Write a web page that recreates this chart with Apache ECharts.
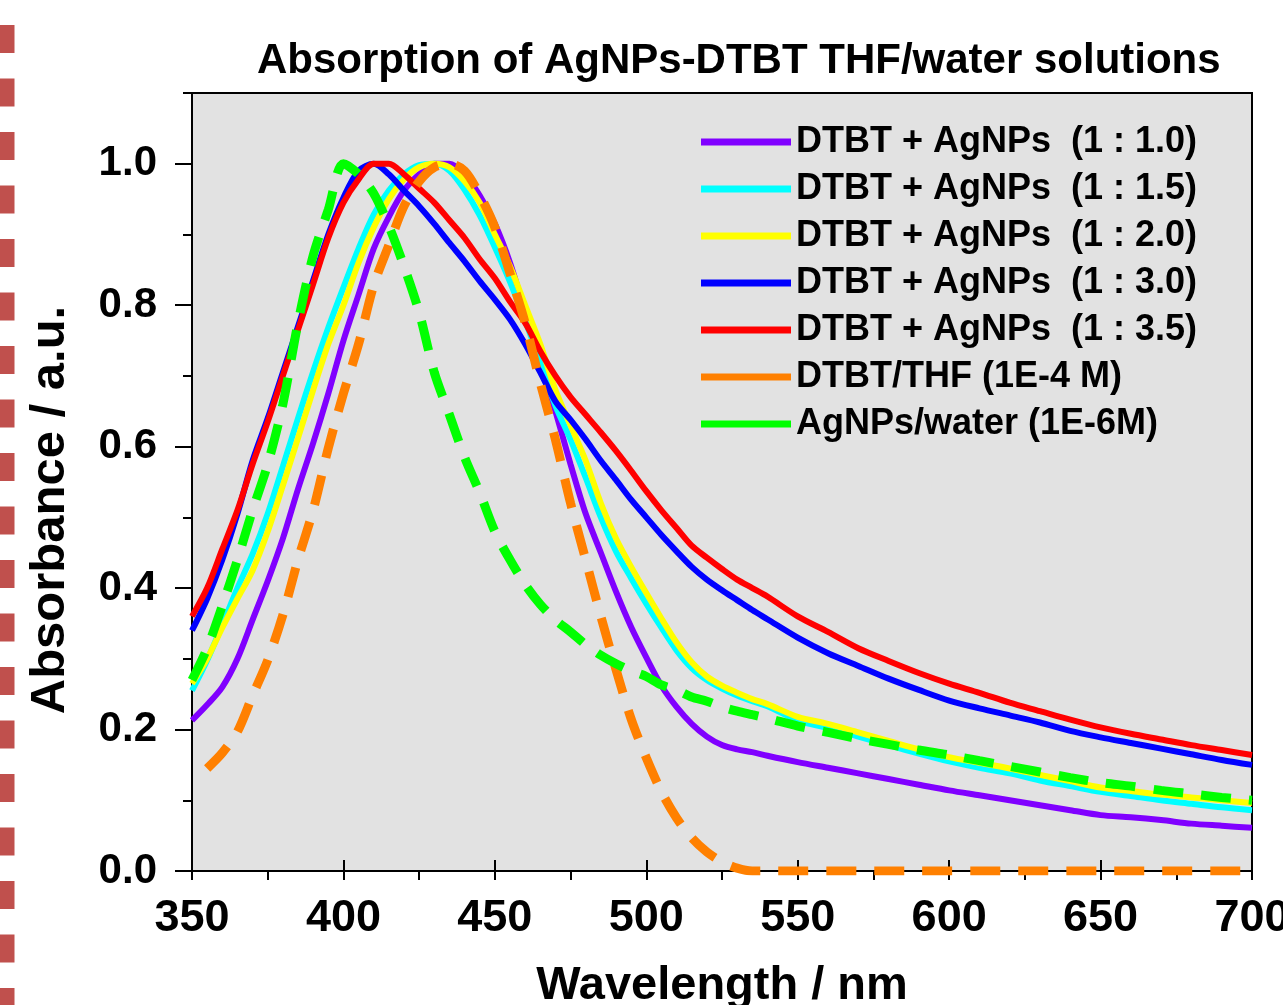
<!DOCTYPE html>
<html>
<head>
<meta charset="utf-8">
<title>Absorption of AgNPs-DTBT THF/water solutions</title>
<script src="https://cdn.jsdelivr.net/npm/echarts@6/dist/echarts.min.js"></script>
<style>
html, body { margin: 0; padding: 0; background: #fff; }
#absChart { width: 1283px; height: 1005px; }
</style>
</head>
<body>
<div id="absChart"></div>
<script>
var absChart;

// wavelength grid (nm) shared by all spectra
var wavelength = [350, 355, 360, 365, 370, 375, 380, 385, 390, 395, 400, 405, 410, 415, 420, 425, 430, 435, 440, 445,
    450, 455, 460, 465, 470, 475, 480, 485, 490, 495, 500, 505, 510, 515, 520, 525, 530, 535, 540,
    550, 560, 570, 580, 590, 600, 610, 620, 630, 640, 650, 660, 670, 680, 690, 700];

// DTBT + AgNPs (1 : 1.0)
var ratio10 = [0.213, 0.235, 0.26, 0.30, 0.355, 0.41, 0.47, 0.54, 0.605, 0.675, 0.75, 0.815, 0.88, 0.925, 0.962, 0.985, 1.0, 1.0, 0.985, 0.955,
    0.915, 0.86, 0.79, 0.72, 0.65, 0.575, 0.505, 0.45, 0.395, 0.345, 0.302, 0.262, 0.232, 0.208, 0.19, 0.178, 0.172, 0.168, 0.163,
    0.154, 0.146, 0.138, 0.13, 0.122, 0.114, 0.107, 0.1, 0.093, 0.086, 0.079, 0.076, 0.072, 0.067, 0.064, 0.061];
// DTBT + AgNPs (1 : 1.5)
var ratio15 = [0.255, 0.298, 0.348, 0.40, 0.448, 0.505, 0.572, 0.64, 0.706, 0.768, 0.825, 0.88, 0.928, 0.962, 0.985, 0.998, 1.0, 0.99, 0.963, 0.927,
    0.882, 0.833, 0.778, 0.72, 0.658, 0.61, 0.556, 0.50, 0.452, 0.414, 0.378, 0.344, 0.312, 0.287, 0.27, 0.258, 0.248, 0.24, 0.233,
    0.213, 0.202, 0.19, 0.178, 0.166, 0.155, 0.146, 0.138, 0.128, 0.12, 0.112, 0.106, 0.1, 0.095, 0.09, 0.086];
// DTBT + AgNPs (1 : 2.0)
var ratio20 = [0.265, 0.30, 0.344, 0.385, 0.425, 0.48, 0.545, 0.612, 0.68, 0.745, 0.80, 0.86, 0.91, 0.95, 0.978, 0.995, 1.0, 0.995, 0.975, 0.945,
    0.90, 0.855, 0.80, 0.745, 0.68, 0.63, 0.58, 0.52, 0.47, 0.43, 0.393, 0.357, 0.323, 0.295, 0.275, 0.262, 0.252, 0.243, 0.236,
    0.218, 0.208, 0.196, 0.184, 0.172, 0.161, 0.153, 0.145, 0.136, 0.127, 0.118, 0.113, 0.108, 0.104, 0.10, 0.096];
// DTBT + AgNPs (1 : 3.0)
var ratio30 = [0.34, 0.385, 0.44, 0.505, 0.58, 0.64, 0.705, 0.77, 0.835, 0.90, 0.952, 0.99, 1.0, 0.985, 0.962, 0.94, 0.915, 0.888, 0.862, 0.834,
    0.808, 0.78, 0.745, 0.705, 0.664, 0.638, 0.61, 0.58, 0.553, 0.525, 0.50, 0.475, 0.452, 0.43, 0.412, 0.397, 0.383, 0.369, 0.356,
    0.33, 0.308, 0.29, 0.272, 0.256, 0.241, 0.23, 0.22, 0.21, 0.198, 0.189, 0.181, 0.173, 0.165, 0.157, 0.15];
// DTBT + AgNPs (1 : 3.5)
var ratio35 = [0.36, 0.40, 0.455, 0.51, 0.575, 0.635, 0.70, 0.765, 0.83, 0.895, 0.945, 0.978, 1.0, 1.0, 0.985, 0.965, 0.945, 0.92, 0.895, 0.865,
    0.838, 0.805, 0.775, 0.735, 0.70, 0.67, 0.645, 0.62, 0.594, 0.566, 0.537, 0.51, 0.485, 0.46, 0.443, 0.427, 0.412, 0.40, 0.388,
    0.36, 0.338, 0.315, 0.297, 0.28, 0.265, 0.252, 0.238, 0.226, 0.214, 0.203, 0.194, 0.186, 0.178, 0.171, 0.164];
// DTBT/THF (1E-4 M), no point at 350
var dtbtThf = [null, 0.145, 0.167, 0.197, 0.248, 0.298, 0.362, 0.44, 0.51, 0.598, 0.675, 0.745, 0.828, 0.885, 0.94, 0.975, 0.995, 1.0, 0.99, 0.956,
    0.91, 0.845, 0.775, 0.69, 0.61, 0.52, 0.44, 0.36, 0.285, 0.215, 0.16, 0.112, 0.075, 0.047, 0.027, 0.013, 0.004, 0, 0,
    0, 0, 0, 0, 0, 0, 0, 0, 0, 0, 0, 0, 0, 0, 0, 0];
// AgNPs/water (1E-6M)
var agnpsWater = [0.27, 0.315, 0.375, 0.44, 0.51, 0.575, 0.66, 0.775, 0.87, 0.935, 1.0, 0.985, 0.958, 0.912, 0.855, 0.79, 0.705, 0.645, 0.585, 0.535,
    0.48, 0.44, 0.405, 0.377, 0.355, 0.338, 0.32, 0.305, 0.293, 0.283, 0.275, 0.263, 0.256, 0.246, 0.24, 0.232, 0.226, 0.221, 0.216,
    0.205, 0.196, 0.187, 0.179, 0.171, 0.164, 0.156, 0.148, 0.14, 0.132, 0.125, 0.12, 0.114, 0.109, 0.104, 0.10];

var seriesNames = ['DTBT + AgNPs  (1 : 1.0)', 'DTBT + AgNPs  (1 : 1.5)', 'DTBT + AgNPs  (1 : 2.0)',
    'DTBT + AgNPs  (1 : 3.0)', 'DTBT + AgNPs  (1 : 3.5)', 'DTBT/THF (1E-4 M)', 'AgNPs/water (1E-6M)'];
var seriesColors = ['#8000ff', '#00ffff', '#ffff00', '#0000ff', '#ff0000', '#ff8000', '#00ff00'];

// major tick values
var absTicks = [0, 0.2, 0.4, 0.6, 0.8, 1.0];

var FONT = '"Liberation Sans", Arial, sans-serif';

init();

function init() {
    absChart = echarts.init(document.getElementById('absChart'));
    absChart.setOption(makeOptions());
}

function toPoints(values) {
    var pts = [];
    for (var i = 0; i < wavelength.length; i++) {
        if (values[i] !== null) {
            pts.push([wavelength[i], values[i]]);
        }
    }
    return pts;
}

function makeLine(idx, values, dashed) {
    return {
        name: seriesNames[idx],
        type: 'line',
        data: toPoints(values),
        showSymbol: false,
        smooth: 0.3,
        xAxisIndex: 0,
        yAxisIndex: 0,
        itemStyle: { color: seriesColors[idx] },
        lineStyle: {
            color: seriesColors[idx],
            width: dashed ? 9 : 6,
            type: dashed ? [30, 18] : 'solid'
        },
        emphasis: { disabled: true }
    };
}

function makeOptions() {
    var black = '#000';
    var option = {
        animation: false,
        backgroundColor: '#ffffff',
        textStyle: { fontFamily: FONT },
        title: {
            text: 'Absorption of AgNPs-DTBT THF/water solutions',
            left: 252,
            top: 35,
            textStyle: { fontFamily: FONT, fontSize: 42, fontWeight: 'bold', color: black }
        },
        legend: {
            orient: 'vertical',
            left: 696,
            top: 118,
            icon: 'rect',
            itemWidth: 90,
            itemHeight: 7,
            itemGap: 9,
            data: seriesNames,
            textStyle: { fontFamily: FONT, fontSize: 36, fontWeight: 'bold', color: black, lineHeight: 38 }
        },
        grid: {
            left: 192, right: 31, top: 93, bottom: 134,
            outerBoundsMode: 'none',
            show: true,
            backgroundColor: '#e2e2e2',
            borderColor: black,
            borderWidth: 2
        },
        // decorative dashed strip on the left edge
        graphic: [{
            type: 'line',
            silent: true,
            shape: { x1: 7, y1: 0, x2: 7, y2: 1005 },
            style: { stroke: '#c0504d', lineWidth: 15, lineDash: [28, 25.5], lineDashOffset: 28.5 }
        }],
        xAxis: [
            {
                // minor + major ticks, outside
                type: 'value', min: 350, max: 700, interval: 25, position: 'bottom',
                axisLine: { show: true, lineStyle: { color: black, width: 2 } },
                axisTick: { show: true, inside: false, length: 9, lineStyle: { color: black, width: 2 } },
                axisLabel: { show: false },
                splitLine: { show: false }
            },
            {
                // major ticks inside + labels
                type: 'value', min: 350, max: 700, interval: 50, position: 'bottom',
                axisLine: { show: false },
                axisTick: { show: true, inside: true, length: 11, lineStyle: { color: black, width: 2 } },
                axisLabel: { fontFamily: FONT, fontSize: 45, fontWeight: 'bold', color: black, margin: 25 },
                splitLine: { show: false },
                name: 'Wavelength / nm',
                nameLocation: 'middle',
                nameGap: 92,
                nameTextStyle: { fontFamily: FONT, fontSize: 47, fontWeight: 'bold', color: black }
            }
        ],
        yAxis: [
            {
                type: 'value', min: 0, max: 1.1, interval: 0.1, position: 'left',
                axisLine: { show: true, lineStyle: { color: black, width: 2 } },
                axisTick: { show: true, inside: false, length: 9, lineStyle: { color: black, width: 2 } },
                axisLabel: { show: false },
                splitLine: { show: false }
            },
            {
                type: 'value', min: 0, max: 1.1, position: 'left',
                axisLine: { show: false },
                axisTick: { show: true, inside: false, length: 17, customValues: absTicks, lineStyle: { color: black, width: 2 } },
                axisLabel: {
                    customValues: absTicks,
                    fontFamily: FONT, fontSize: 42, fontWeight: 'bold', color: black, margin: 35,
                    formatter: function (v) { return v.toFixed(1); }
                },
                splitLine: { show: false },
                name: 'Absorbance / a.u.',
                nameLocation: 'middle',
                nameGap: 117,
                nameTextStyle: { fontFamily: FONT, fontSize: 49, fontWeight: 'bold', color: black, padding: [0, 56, 0, 0] }
            }
        ],
        series: [
            makeLine(0, ratio10, false),
            makeLine(1, ratio15, false),
            makeLine(2, ratio20, false),
            makeLine(3, ratio30, false),
            makeLine(4, ratio35, false),
            makeLine(5, dtbtThf, true),
            makeLine(6, agnpsWater, true)
        ]
    };
    return option;
}
</script>
</body>
</html>
